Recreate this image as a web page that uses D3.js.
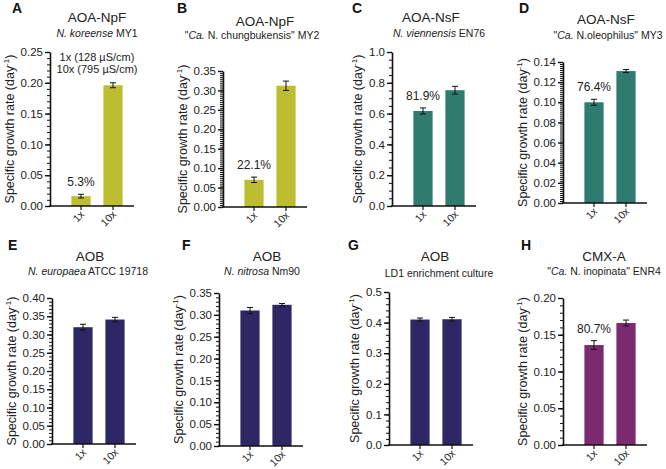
<!DOCTYPE html>
<html>
<head>
<meta charset="utf-8">
<style>
  body { margin: 0; background: #fff; }
  svg { font-family: "Liberation Sans", Arial, sans-serif; }
</style>
</head>
<body>
<svg id="chart" width="666" height="469"></svg>
<script src="https://cdnjs.cloudflare.com/ajax/libs/d3/7.8.5/d3.min.js"></script>
<script>
// ---- data ----
const letters = ["A", "B", "C", "D", "E", "F", "G", "H"];
const groups = ["AOA-NpF", "AOA-NpF", "AOA-NsF", "AOA-NsF", "AOB", "AOB", "AOB", "CMX-A"];
// [plain prefix, italic part, plain rest]
const strains = [
    ["", "N. koreense", " MY1"],
    ["\"", "Ca.", " N. chungbukensis\" MY2"],
    ["", "N. viennensis", " EN76"],
    ["\"", "Ca.", " N.oleophilus\" MY3"],
    ["", "N. europaea", " ATCC 19718"],
    ["", "N. nitrosa", " Nm90"],
    ["", "", "LD1 enrichment culture"],
    ["\"", "Ca.", " N. inopinata\" ENR4"]
];
const conditions = ["1x", "10x"];
const rate1x  = [0.016, 0.070, 0.617, 0.100, 0.320, 0.310, 0.410, 0.136];
const rate10x = [0.196, 0.312, 0.752, 0.131, 0.341, 0.323, 0.411, 0.166];
const err1x   = [0.003, 0.007, 0.020, 0.003, 0.008, 0.007, 0.005, 0.006];
const err10x  = [0.004, 0.012, 0.025, 0.0015, 0.006, 0.003, 0.006, 0.004];
const retention = ["5.3%", "22.1%", "81.9%", "76.4%", null, null, null, "80.7%"];
const yMax = [0.25, 0.35, 1.0, 0.14, 0.40, 0.35, 0.5, 0.20];
const majorStep = [0.05, 0.05, 0.2, 0.02, 0.05, 0.05, 0.1, 0.05];
const minorStep = [0.01, 0.005, 0.05, 0.002, 0.01, 0.01, 0.02, 0.01];
const decimals = [2, 2, 1, 2, 2, 2, 1, 2];
const colors = ["#bcbd30", "#bcbd30", "#2f7b6d", "#2f7b6d", "#2e2766", "#2e2766", "#2e2766", "#7b2a70"];
const legendLines = ["1x (128 \u00b5S/cm)", "10x (795 \u00b5S/cm)"];

// ---- layout ----
const layout = [
    {ax: 50,  top: 52,  bot: 206, lx: 12,  ly: 13,  tx: 97,  ty: 22,  sx: 97,  sy: 37},
    {ax: 223, top: 71,  bot: 207, lx: 177, ly: 13,  tx: 265, ty: 26,  sx: 252, sy: 39},
    {ax: 392, top: 52,  bot: 206, lx: 352, ly: 13,  tx: 431, ty: 22,  sx: 439, sy: 37},
    {ax: 563, top: 62,  bot: 203, lx: 519, ly: 13,  tx: 606, ty: 24,  sx: 608, sy: 39},
    {ax: 52,  top: 298, bot: 444, lx: 8,   ly: 250, tx: 90,  ty: 261, sx: 88,  sy: 275},
    {ax: 219, top: 293, bot: 446, lx: 182, ly: 250, tx: 267, ty: 261, sx: 262, sy: 275},
    {ax: 389, top: 292, bot: 445, lx: 348, ly: 250, tx: 435, ty: 261, sx: 439, sy: 277},
    {ax: 563, top: 298, bot: 445, lx: 521, ly: 250, tx: 604, ty: 261, sx: 604, sy: 275}
];

const svg = d3.select("#chart");

letters.forEach(function(letter, i) {
    const L = layout[i];
    const g = svg.append("g");

    const y = d3.scaleLinear().domain([0, yMax[i]]).range([L.bot, L.top]);
    const x = d3.scaleBand().domain(conditions)
        .range([L.ax + 15, L.ax + 79])
        .paddingInner(0.4).paddingOuter(0.2);

    const data = [
        {c: "1x", v: rate1x[i], e: err1x[i]},
        {c: "10x", v: rate10x[i], e: err10x[i]}
    ];

    // bars
    g.selectAll("rect.bar")
        .data(data)
        .enter().append("rect")
        .attr("class", "bar")
        .attr("x", d => x(d.c))
        .attr("width", x.bandwidth())
        .attr("y", d => y(d.v))
        .attr("height", d => y(0) - y(d.v))
        .attr("fill", colors[i]);

    // error bars
    const eb = g.selectAll("g.err").data(data).enter().append("g");
    eb.append("line")
        .attr("x1", d => x(d.c) + x.bandwidth() / 2)
        .attr("x2", d => x(d.c) + x.bandwidth() / 2)
        .attr("y1", d => y(d.v - d.e))
        .attr("y2", d => y(d.v + d.e))
        .attr("stroke", "#111").attr("stroke-width", 1);
    [-1, 1].forEach(function(s) {
        eb.append("line")
            .attr("x1", d => x(d.c) + x.bandwidth() / 2 - 3)
            .attr("x2", d => x(d.c) + x.bandwidth() / 2 + 3)
            .attr("y1", d => y(d.v + s * d.e))
            .attr("y2", d => y(d.v + s * d.e))
            .attr("stroke", "#111").attr("stroke-width", 1);
    });

    // y axis: minor then major
    const nMinor = Math.round(yMax[i] / minorStep[i]);
    const minorTicks = d3.range(0, nMinor + 1).map(k => k * minorStep[i]);
    const nMajor = Math.round(yMax[i] / majorStep[i]);
    const majorTicks = d3.range(0, nMajor + 1).map(k => k * majorStep[i]);

    g.append("g")
        .attr("transform", "translate(" + L.ax + ",0)")
        .call(d3.axisLeft(y).tickValues(minorTicks).tickSize(3).tickFormat(""))
        .call(a => a.select(".domain").remove())
        .call(a => a.selectAll("line").attr("stroke", "#111").attr("stroke-width", 1));

    const yAxis = g.append("g")
        .attr("transform", "translate(" + L.ax + ",0)")
        .call(d3.axisLeft(y).tickValues(majorTicks).tickSize(5).tickSizeOuter(0)
            .tickFormat(d3.format("." + decimals[i] + "f")));
    yAxis.select(".domain").attr("stroke", "#111").attr("stroke-width", 1.6);
    yAxis.selectAll("line").attr("stroke", "#111").attr("stroke-width", 1.4);
    yAxis.selectAll("text")
        .attr("font-size", 11.5)
        .attr("fill", "#222")
        .attr("font-family", "Liberation Sans, Arial, sans-serif")
        .attr("x", -7);

    // x axis
    const xAxis = g.append("g")
        .attr("transform", "translate(0," + L.bot + ")")
        .call(d3.axisBottom(x).tickSize(4).tickSizeOuter(0));
    xAxis.select(".domain").remove();
    xAxis.append("line")
        .attr("x1", L.ax - 1).attr("x2", L.ax + 84)
        .attr("stroke", "#111").attr("stroke-width", 1.6);
    xAxis.selectAll(".tick line").attr("stroke", "#111").attr("stroke-width", 1.2);
    xAxis.selectAll(".tick text")
        .attr("font-size", 10.5)
        .attr("fill", "#222")
        .attr("font-family", "Liberation Sans, Arial, sans-serif")
        .attr("text-anchor", "end")
        .attr("dy", null)
        .attr("y", 0)
        .attr("transform", "translate(4,9) rotate(-45)");

    // y axis label
    let maxW = 0;
    yAxis.selectAll("text").each(function() {
        maxW = Math.max(maxW, this.getComputedTextLength());
    });
    const labX = L.ax - 7 - maxW - 7;
    const lab = g.append("text")
        .attr("transform", "translate(" + labX + "," + ((L.top + L.bot) / 2) + ") rotate(-90)")
        .attr("text-anchor", "middle")
        .attr("font-size", 12.5)
        .attr("fill", "#222");
    lab.append("tspan").text("Specific growth rate (day");
    lab.append("tspan").attr("font-size", 8).attr("dy", -5).text("-1");
    lab.append("tspan").attr("dy", 5).text(")");

    // panel letter
    g.append("text")
        .attr("x", L.lx).attr("y", L.ly)
        .attr("font-size", 14).attr("font-weight", "bold")
        .attr("fill", "#111")
        .text(letter);

    // title + subtitle
    g.append("text")
        .attr("x", L.tx).attr("y", L.ty)
        .attr("text-anchor", "middle")
        .attr("font-size", 13.5).attr("fill", "#222")
        .text(groups[i]);

    const sub = g.append("text")
        .attr("x", L.sx).attr("y", L.sy)
        .attr("text-anchor", "middle")
        .attr("font-size", 10.5).attr("fill", "#222");
    if (strains[i][0]) sub.append("tspan").text(strains[i][0]);
    if (strains[i][1]) sub.append("tspan").attr("font-style", "italic").text(strains[i][1]);
    sub.append("tspan").text(strains[i][2]);

    // retention label above 1x bar
    if (retention[i]) {
        g.append("text")
            .attr("x", x("1x") + x.bandwidth() / 2)
            .attr("y", y(rate1x[i] + err1x[i]) - 8)
            .attr("text-anchor", "middle")
            .attr("font-size", 12).attr("fill", "#222")
            .text(retention[i]);
    }

    // conductivity legend in panel A
    if (i === 0) {
        g.selectAll("text.leg")
            .data(legendLines)
            .enter().append("text")
            .attr("class", "leg")
            .attr("x", 97)
            .attr("y", (d, k) => 61 + k * 12)
            .attr("text-anchor", "middle")
            .attr("font-size", 11).attr("fill", "#222")
            .text(d => d);
    }
});
</script>
</body>
</html>
